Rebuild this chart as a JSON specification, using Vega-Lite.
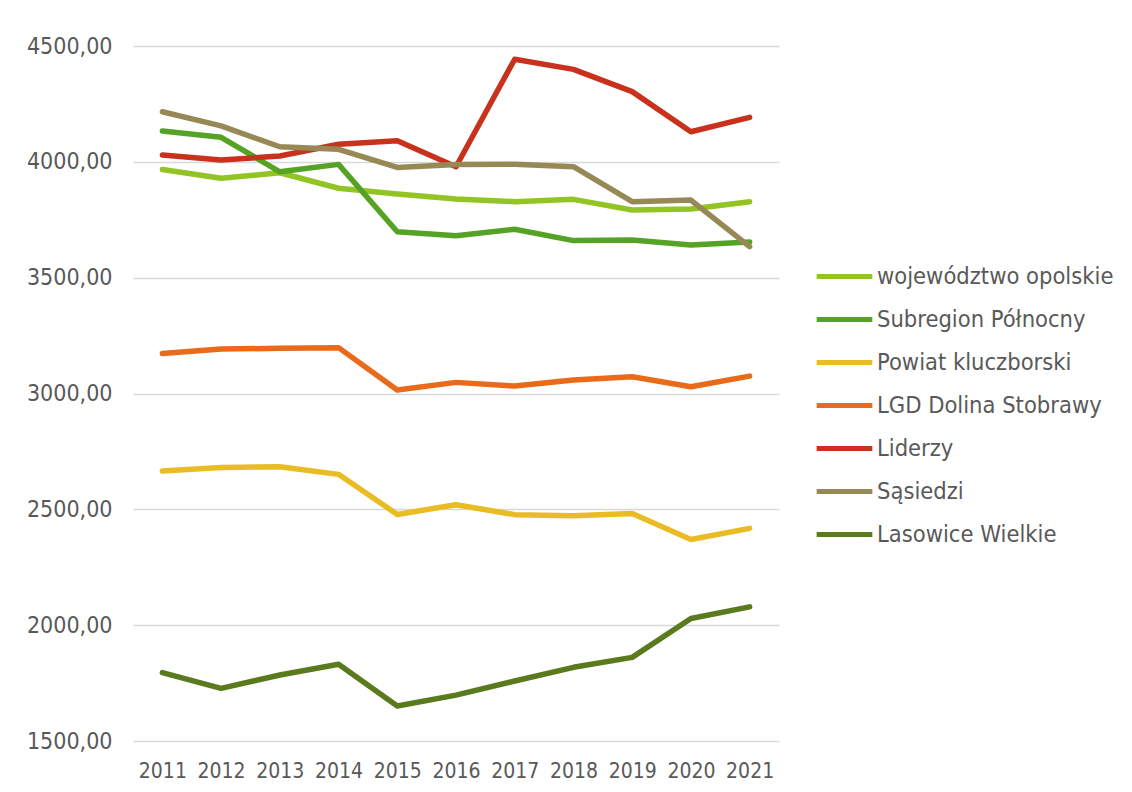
{
  "$schema": "https://vega.github.io/schema/vega-lite/v6.json",
  "width": 646,
  "height": 695,
  "autosize": {"type": "none"},
  "padding": {"left": 133, "top": 46, "right": 353, "bottom": 51},
  "background": "white",
  "config": {
    "view": {"stroke": null},
    "font": "DejaVu Sans Condensed"
  },
  "data": {
    "values": [
      {"rok": "2011", "seria": "województwo opolskie", "wartosc": 3967},
      {"rok": "2012", "seria": "województwo opolskie", "wartosc": 3929},
      {"rok": "2013", "seria": "województwo opolskie", "wartosc": 3953},
      {"rok": "2014", "seria": "województwo opolskie", "wartosc": 3886},
      {"rok": "2015", "seria": "województwo opolskie", "wartosc": 3861},
      {"rok": "2016", "seria": "województwo opolskie", "wartosc": 3840},
      {"rok": "2017", "seria": "województwo opolskie", "wartosc": 3828},
      {"rok": "2018", "seria": "województwo opolskie", "wartosc": 3838},
      {"rok": "2019", "seria": "województwo opolskie", "wartosc": 3792},
      {"rok": "2020", "seria": "województwo opolskie", "wartosc": 3796},
      {"rok": "2021", "seria": "województwo opolskie", "wartosc": 3828},
      {"rok": "2011", "seria": "Subregion Północny", "wartosc": 4133},
      {"rok": "2012", "seria": "Subregion Północny", "wartosc": 4106},
      {"rok": "2013", "seria": "Subregion Północny", "wartosc": 3957},
      {"rok": "2014", "seria": "Subregion Północny", "wartosc": 3989},
      {"rok": "2015", "seria": "Subregion Północny", "wartosc": 3698},
      {"rok": "2016", "seria": "Subregion Północny", "wartosc": 3681},
      {"rok": "2017", "seria": "Subregion Północny", "wartosc": 3709},
      {"rok": "2018", "seria": "Subregion Północny", "wartosc": 3660},
      {"rok": "2019", "seria": "Subregion Północny", "wartosc": 3663},
      {"rok": "2020", "seria": "Subregion Północny", "wartosc": 3641},
      {"rok": "2021", "seria": "Subregion Północny", "wartosc": 3654},
      {"rok": "2011", "seria": "Powiat kluczborski", "wartosc": 2665},
      {"rok": "2012", "seria": "Powiat kluczborski", "wartosc": 2681},
      {"rok": "2013", "seria": "Powiat kluczborski", "wartosc": 2684},
      {"rok": "2014", "seria": "Powiat kluczborski", "wartosc": 2651},
      {"rok": "2015", "seria": "Powiat kluczborski", "wartosc": 2478},
      {"rok": "2016", "seria": "Powiat kluczborski", "wartosc": 2520},
      {"rok": "2017", "seria": "Powiat kluczborski", "wartosc": 2477},
      {"rok": "2018", "seria": "Powiat kluczborski", "wartosc": 2472},
      {"rok": "2019", "seria": "Powiat kluczborski", "wartosc": 2482},
      {"rok": "2020", "seria": "Powiat kluczborski", "wartosc": 2370},
      {"rok": "2021", "seria": "Powiat kluczborski", "wartosc": 2418},
      {"rok": "2011", "seria": "LGD Dolina Stobrawy", "wartosc": 3173},
      {"rok": "2012", "seria": "LGD Dolina Stobrawy", "wartosc": 3192},
      {"rok": "2013", "seria": "LGD Dolina Stobrawy", "wartosc": 3195},
      {"rok": "2014", "seria": "LGD Dolina Stobrawy", "wartosc": 3198},
      {"rok": "2015", "seria": "LGD Dolina Stobrawy", "wartosc": 3015},
      {"rok": "2016", "seria": "LGD Dolina Stobrawy", "wartosc": 3048},
      {"rok": "2017", "seria": "LGD Dolina Stobrawy", "wartosc": 3032},
      {"rok": "2018", "seria": "LGD Dolina Stobrawy", "wartosc": 3058},
      {"rok": "2019", "seria": "LGD Dolina Stobrawy", "wartosc": 3072},
      {"rok": "2020", "seria": "LGD Dolina Stobrawy", "wartosc": 3029},
      {"rok": "2021", "seria": "LGD Dolina Stobrawy", "wartosc": 3075},
      {"rok": "2011", "seria": "Liderzy", "wartosc": 4029},
      {"rok": "2012", "seria": "Liderzy", "wartosc": 4008},
      {"rok": "2013", "seria": "Liderzy", "wartosc": 4025},
      {"rok": "2014", "seria": "Liderzy", "wartosc": 4076},
      {"rok": "2015", "seria": "Liderzy", "wartosc": 4091},
      {"rok": "2016", "seria": "Liderzy", "wartosc": 3979},
      {"rok": "2017", "seria": "Liderzy", "wartosc": 4443},
      {"rok": "2018", "seria": "Liderzy", "wartosc": 4399},
      {"rok": "2019", "seria": "Liderzy", "wartosc": 4303},
      {"rok": "2020", "seria": "Liderzy", "wartosc": 4130},
      {"rok": "2021", "seria": "Liderzy", "wartosc": 4192},
      {"rok": "2011", "seria": "Sąsiedzi", "wartosc": 4216},
      {"rok": "2012", "seria": "Sąsiedzi", "wartosc": 4155},
      {"rok": "2013", "seria": "Sąsiedzi", "wartosc": 4065},
      {"rok": "2014", "seria": "Sąsiedzi", "wartosc": 4054},
      {"rok": "2015", "seria": "Sąsiedzi", "wartosc": 3976},
      {"rok": "2016", "seria": "Sąsiedzi", "wartosc": 3989},
      {"rok": "2017", "seria": "Sąsiedzi", "wartosc": 3990},
      {"rok": "2018", "seria": "Sąsiedzi", "wartosc": 3979},
      {"rok": "2019", "seria": "Sąsiedzi", "wartosc": 3828},
      {"rok": "2020", "seria": "Sąsiedzi", "wartosc": 3835},
      {"rok": "2021", "seria": "Sąsiedzi", "wartosc": 3634},
      {"rok": "2011", "seria": "Lasowice Wielkie", "wartosc": 1795},
      {"rok": "2012", "seria": "Lasowice Wielkie", "wartosc": 1727},
      {"rok": "2013", "seria": "Lasowice Wielkie", "wartosc": 1785},
      {"rok": "2014", "seria": "Lasowice Wielkie", "wartosc": 1831},
      {"rok": "2015", "seria": "Lasowice Wielkie", "wartosc": 1651},
      {"rok": "2016", "seria": "Lasowice Wielkie", "wartosc": 1698},
      {"rok": "2017", "seria": "Lasowice Wielkie", "wartosc": 1759},
      {"rok": "2018", "seria": "Lasowice Wielkie", "wartosc": 1818},
      {"rok": "2019", "seria": "Lasowice Wielkie", "wartosc": 1861},
      {"rok": "2020", "seria": "Lasowice Wielkie", "wartosc": 2029},
      {"rok": "2021", "seria": "Lasowice Wielkie", "wartosc": 2079}
    ]
  },
  "mark": {"type": "line", "strokeWidth": 5.5, "strokeCap": "round", "strokeJoin": "round"},
  "encoding": {
    "x": {
      "field": "rok",
      "type": "ordinal",
      "scale": {"type": "point", "padding": 0.5},
      "axis": {
        "title": null,
        "labelAngle": 0,
        "ticks": false,
        "domain": false,
        "labelFontSize": 21,
        "labelColor": "#595959",
        "labelPadding": 19
      }
    },
    "y": {
      "field": "wartosc",
      "type": "quantitative",
      "scale": {"domain": [1500, 4500], "nice": false, "zero": false},
      "axis": {
        "title": null,
        "values": [1500, 2000, 2500, 3000, 3500, 4000, 4500],
        "labelExpr": "replace(format(datum.value, '.2f'), '.', ',')",
        "ticks": false,
        "domain": false,
        "grid": true,
        "gridColor": "#D9D9D9",
        "gridWidth": 1.5,
        "labelFontSize": 23,
        "labelColor": "#595959",
        "labelPadding": 21
      }
    },
    "color": {
      "field": "seria",
      "type": "nominal",
      "sort": ["województwo opolskie", "Subregion Północny", "Powiat kluczborski", "LGD Dolina Stobrawy", "Liderzy", "Sąsiedzi", "Lasowice Wielkie"],
      "scale": {
        "domain": ["województwo opolskie", "Subregion Północny", "Powiat kluczborski", "LGD Dolina Stobrawy", "Liderzy", "Sąsiedzi", "Lasowice Wielkie"],
        "range": ["#92C423", "#55A325", "#E8BC22", "#E96A19", "#C8321C", "#978955", "#5B7A1D"]
      },
      "legend": {
        "title": null,
        "orient": "none",
        "legendX": 681,
        "legendY": 200,
        "symbolType": "stroke",
        "symbolSize": 3100,
        "symbolStrokeWidth": 5,
        "rowPadding": 1,
        "labelFontSize": 23.5,
        "labelColor": "#595959",
        "labelOffset": 2,
        "labelLimit": 400
      }
    }
  }
}
